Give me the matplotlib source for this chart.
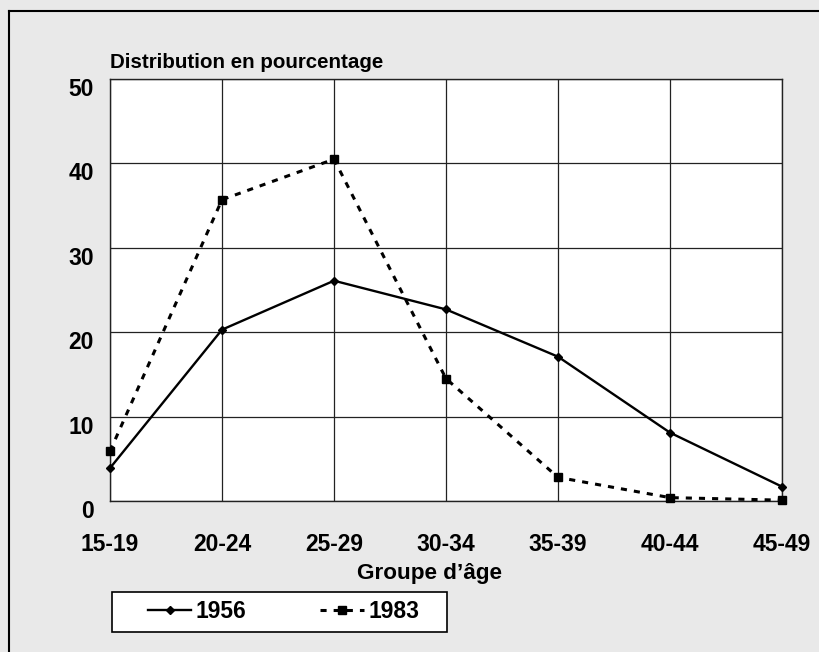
import matplotlib
matplotlib.use("Agg")
import matplotlib.pyplot as plt
import matplotlib.transforms as mtransforms
from matplotlib.lines import Line2D
from matplotlib.patches import Rectangle

age_groups = ["15-19", "20-24", "25-29", "30-34", "35-39", "40-44", "45-49"]
series_1956 = [3.9, 20.3, 26.1, 22.7, 17.1, 8.1, 1.7]
series_1983 = [5.9, 35.7, 40.5, 14.5, 2.8, 0.4, 0.1]
y_ticks = [0, 10, 20, 30, 40, 50]

plt.rcParams['font.family'] = ['Liberation Sans', 'DejaVu Sans']

W, H = 820, 652
fig = plt.figure(figsize=(W / 100, H / 100), dpi=100)
fig.patch.set_facecolor('#e9e9e9')

# outer frame (left and top edges visible)
fig.add_artist(Line2D([8.5 / W, 8.5 / W], [0, 1 - 11 / H], transform=fig.transFigure,
                      color='black', lw=1.5))
fig.add_artist(Line2D([8.5 / W, 1], [1 - 11 / H, 1 - 11 / H], transform=fig.transFigure,
                      color='black', lw=1.5))

left, right, top, bottom = 110, 782, 79, 501
ax = fig.add_axes([left / W, 1 - bottom / H, (right - left) / W, (bottom - top) / H])
ax.set_facecolor('white')

x = list(range(len(age_groups)))
ax.plot(x, series_1956, color='black', lw=1.7, marker='D', markersize=4,
        label='1956', zorder=3, clip_on=False)
ax.plot(x, series_1983, color='black', lw=2.2, linestyle=(0, (2.0, 2.3)),
        marker='s', markersize=6, label='1983', zorder=3, clip_on=False)

ax.set_xlim(0, len(age_groups) - 1)
ax.set_ylim(0, 50)
ax.set_xticks(x)
ax.set_xticklabels(age_groups, fontsize=16.5, fontweight='bold')
ax.set_yticks(y_ticks)
ax.set_yticklabels([str(v) for v in y_ticks], fontsize=16.5, fontweight='bold')
ax.tick_params(axis='both', length=0)
ax.tick_params(axis='x', pad=23)
ax.tick_params(axis='y', pad=11.5)
offset = mtransforms.ScaledTranslation(0, -8 / 100, fig.dpi_scale_trans)
for lab in ax.get_yticklabels():
    lab.set_transform(lab.get_transform() + offset)

ax.grid(True, color='#222222', lw=0.9)
ax.set_axisbelow(True)
for s in ax.spines.values():
    s.set_color('#222222')
    s.set_linewidth(1.0)

fig.text(left / W, 1 - 63 / H, "Distribution en pourcentage", fontsize=14.8,
         fontweight='bold', ha='left', va='center')
fig.text(430 / W, 1 - 574 / H, "Groupe d\u2019\u00e2ge", fontsize=16.2,
         fontweight='bold', ha='center', va='center')

# legend box
lx0, lx1, ly0, ly1 = 112, 447, 592, 632
fig.add_artist(Rectangle((lx0 / W, 1 - ly1 / H), (lx1 - lx0) / W, (ly1 - ly0) / H,
                         transform=fig.transFigure, facecolor='white',
                         edgecolor='black', lw=1.2))
handles, labels = ax.get_legend_handles_labels()
leg = fig.legend(handles, labels, loc='center',
                 bbox_to_anchor=((lx0 + lx1) / 2 / W + 4 / W, 1 - (ly0 + ly1) / 2 / H),
                 ncol=2, frameon=False, handlelength=1.9, handletextpad=0.2,
                 columnspacing=3.2, prop={'weight': 'bold', 'size': 16.5})

fig.savefig("out.png", dpi=100, facecolor=fig.get_facecolor())
